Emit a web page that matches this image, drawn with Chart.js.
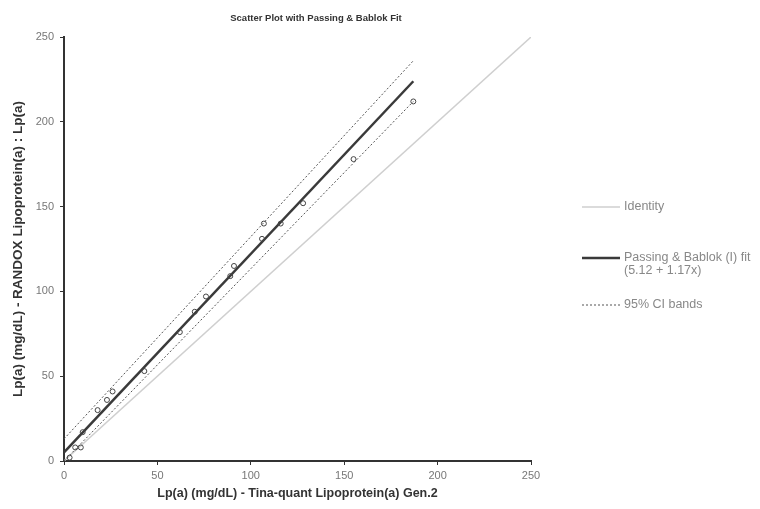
<!DOCTYPE html>
<html>
<head>
<meta charset="utf-8">
<script src="https://cdn.jsdelivr.net/npm/chart.js@4.4.1/dist/chart.umd.min.js"></script>
<style>
  html, body { margin: 0; padding: 0; background: #fff; }
  #wrap { width: 760px; height: 509px; position: relative; }
</style>
</head>
<body>
<div id="wrap"><canvas id="pbChart" width="760" height="509"></canvas></div>
<script>
// Medições pareadas (mg/dL): Tina-quant (x) vs RANDOX (y)
const tinaQuant = [3, 6, 9, 10, 18, 23, 26, 43, 62, 70, 76, 89, 91, 106, 107, 116, 128, 155, 187];
const randox    = [2, 8, 8, 17, 30, 36, 41, 53, 76, 88, 97, 109, 115, 131, 140, 140, 152, 178, 212];

// Ajuste de Passing & Bablok
const intercept = 5.12;
const slope = 1.17;
const fitRange = [0, 187];

// Bandas de IC 95% (extremos)
const ciUpper = [[0, 13], [187, 236]];
const ciLower = [[0, 0], [187, 212]];

// Linha identidade
const identityRange = [0, 250];

const axisTicks = [0, 50, 100, 150, 200, 250];

const pontos = tinaQuant.map((x, i) => ({ x: x, y: randox[i] }));
const linhaFit = fitRange.map(x => ({ x: x, y: intercept + slope * x }));
const linhaIdentidade = identityRange.map(v => ({ x: v, y: v }));
const toPts = arr => arr.map(p => ({ x: p[0], y: p[1] }));

const FONT = "'Liberation Sans', Arial, sans-serif";

// Título e legenda desenhados à mão para ficar na posição certa
const extras = {
    id: 'extras',
    afterDraw(chart) {
        const ctx = chart.ctx;
        ctx.save();
        ctx.fillStyle = '#333';
        ctx.font = 'bold 9.5px ' + FONT;
        ctx.textAlign = 'center';
        ctx.textBaseline = 'middle';
        ctx.fillText('Scatter Plot with Passing & Bablok Fit', 316, 18);

        const itens = [
            { ds: 1, y: 207, lines: [chart.data.datasets[1].label] },
            { ds: 2, y: 258, lines: [chart.data.datasets[2].label, '(5.12 + 1.17x)'] },
            { ds: 3, y: 305, lines: [chart.data.datasets[3].label] }
        ];
        ctx.font = '12.5px ' + FONT;
        ctx.textAlign = 'left';
        itens.forEach(it => {
            const ds = chart.data.datasets[it.ds];
            ctx.beginPath();
            ctx.strokeStyle = ds.borderColor;
            ctx.lineWidth = ds.borderWidth;
            ctx.setLineDash(ds.borderDash || []);
            ctx.moveTo(582, it.y);
            ctx.lineTo(620, it.y);
            ctx.stroke();
            ctx.setLineDash([]);
            ctx.fillStyle = '#888';
            it.lines.forEach((t, k) => ctx.fillText(t, 624, it.y + k * 13));
        });
        ctx.restore();
    }
};

new Chart(document.getElementById('pbChart'), {
    type: 'scatter',
    data: {
        datasets: [
            {
                label: 'Dados',
                data: pontos,
                pointStyle: 'circle',
                pointRadius: 2.5,
                pointBackgroundColor: 'rgba(255,255,255,0)',
                pointBorderColor: '#444',
                pointBorderWidth: 1,
                order: 0
            },
            {
                label: 'Identity',
                type: 'line',
                data: linhaIdentidade,
                borderColor: '#cfcfcf',
                borderWidth: 1.5,
                pointRadius: 0,
                fill: false,
                order: 3
            },
            {
                label: 'Passing & Bablok (I) fit',
                type: 'line',
                data: linhaFit,
                borderColor: '#3a3a3a',
                borderWidth: 2.5,
                pointRadius: 0,
                fill: false,
                order: 1
            },
            {
                label: '95% CI bands',
                type: 'line',
                data: toPts(ciUpper),
                borderColor: '#555',
                borderWidth: 1,
                borderDash: [2, 2],
                pointRadius: 0,
                fill: false,
                order: 2
            },
            {
                label: '95% CI bands (inferior)',
                type: 'line',
                data: toPts(ciLower),
                borderColor: '#555',
                borderWidth: 1,
                borderDash: [2, 2],
                pointRadius: 0,
                fill: false,
                order: 2
            }
        ]
    },
    options: {
        responsive: false,
        animation: false,
        layout: { padding: { top: 37, right: 229, left: 0, bottom: 0 } },
        plugins: {
            legend: { display: false },
            title: { display: false },
            tooltip: { enabled: false }
        },
        scales: {
            x: {
                type: 'linear',
                min: 0,
                max: 250,
                afterBuildTicks: s => { s.ticks = axisTicks.map(v => ({ value: v })); },
                afterFit: s => { s.height = 48; },
                border: { color: '#333', width: 2 },
                grid: { drawOnChartArea: false, drawTicks: true, tickLength: 4, color: '#333' },
                ticks: { color: '#777', font: { family: FONT, size: 11 }, padding: 4 },
                title: {
                    display: true,
                    text: 'Lp(a) (mg/dL) - Tina-quant Lipoprotein(a) Gen.2',
                    color: '#333',
                    font: { family: FONT, size: 12.5, weight: 'bold' },
                    padding: { top: 0, bottom: 8 }
                }
            },
            y: {
                type: 'linear',
                min: 0,
                max: 250,
                afterBuildTicks: s => { s.ticks = axisTicks.map(v => ({ value: v })); },
                afterFit: s => { s.width = 64; },
                border: { color: '#333', width: 2 },
                grid: { drawOnChartArea: false, drawTicks: true, tickLength: 4, color: '#333' },
                ticks: { color: '#777', font: { family: FONT, size: 11 }, padding: 6 },
                title: {
                    display: true,
                    text: 'Lp(a) (mg/dL) - RANDOX Lipoprotein(a) : Lp(a)',
                    color: '#333',
                    font: { family: FONT, size: 13.5, weight: 'bold' },
                    padding: { top: 10, bottom: 0 }
                }
            }
        }
    },
    plugins: [extras]
});
</script>
</body>
</html>
